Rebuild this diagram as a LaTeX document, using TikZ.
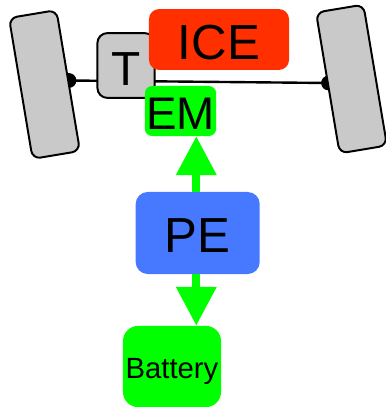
\documentclass[tikz,border=0pt]{standalone}
\usepackage{fontspec}
\setmainfont{Liberation Sans}
\usetikzlibrary{arrows.meta}
\definecolor{wheelgray}{HTML}{C9C9C9}
\definecolor{iceorange}{HTML}{FF2F00}
\definecolor{pegreen}{HTML}{00FF00}
\definecolor{peblue}{HTML}{4679FF}
\tikzset{
	part/.style={inner sep=0pt, text=black, text height=28pt, text depth=0pt, font=\fontsize{35}{35}\selectfont},
	wheel/.style={draw=black, line width=1.4pt, fill=wheelgray, rounded corners=0.2cm, rotate=9.5, minimum width=1.2cm, minimum height=3.57cm, inner sep=0pt},
	hub/.style={circle, fill=black, minimum size=0.37cm, inner sep=0pt},
	flow/.style={draw=pegreen, line width=0.19cm, -{Triangle[length=0.97cm, width=0.97cm, fill=pegreen]}},
}

\begin{document}
\begin{tikzpicture}[x=0.025cm, y=-0.025cm]
		%%%%% START %%%%%
		
		\useasboundingbox (0, 0) rectangle (386, 407);
		
		\node[hub] (lefthub) at (69, 80.5) {};
		\node[hub] (righthub) at (328.5, 83) {};
		\draw[line width=1.7pt] (lefthub.center) -- (righthub.center);
		
		\node[wheel] (leftwheel) at (44.5, 84.5) {};
		\node[wheel] (rightwheel) at (351.5, 79) {};
		
		\node[part, draw=black, line width=1.4pt, fill=wheelgray, rounded corners=0.25cm, minimum width=1.43cm, minimum height=1.62cm, font=\fontsize{34}{34}\selectfont] (T) at (126, 65.5) {T};
		
		\node[part, fill=iceorange, rounded corners=0.25cm, minimum width=3.5cm, minimum height=1.52cm] (ICE) at (219, 39.5) {ICE};
		\node[part, fill=pegreen, rounded corners=0.18cm, minimum width=1.78cm, minimum height=1.25cm, text height=27pt, font=\fontsize{32.5}{32.5}\selectfont] (EM) at (180.5, 111) {EM};
		
		\node[part, fill=peblue, rounded corners=0.3cm, minimum width=3.1cm, minimum height=2.05cm] (PE) at (197.7, 233) {PE};
		\node[part, fill=pegreen, rounded corners=0.38cm, minimum width=2.45cm, minimum height=2.03cm, text height=16.7pt, font=\fontsize{20.8}{20.8}\selectfont] (Battery) at (172, 366.5) {Battery};
		
		\draw[flow] ([xshift=-1pt]PE.north) -- ([xshift=-1pt]PE.north |- EM.south);
		\draw[flow] ([xshift=-1pt]PE.south) -- ([xshift=-1pt]PE.south |- Battery.north);
		
		%%%%% END %%%%%
	\end{tikzpicture}
\end{document}
